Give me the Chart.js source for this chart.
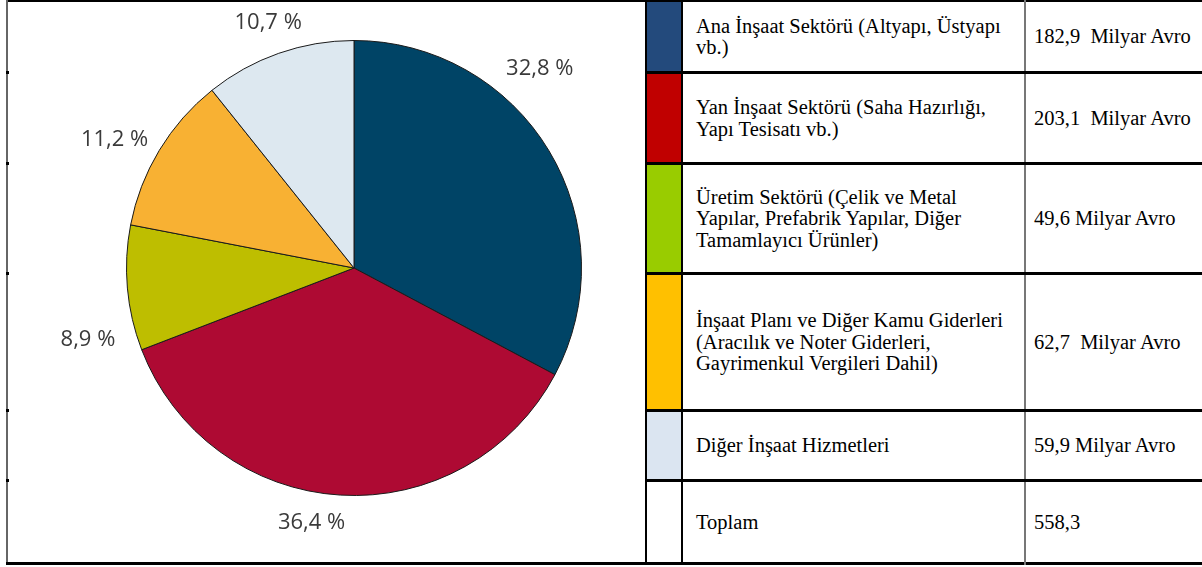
<!DOCTYPE html>
<html>
<head>
<meta charset="utf-8">
<script src="https://cdn.jsdelivr.net/npm/chart.js@4.4.0/dist/chart.umd.min.js"></script>
<style>
  html, body { margin: 0; padding: 0; background: #fff; }
  #sayfa { position: relative; width: 1202px; height: 567px; overflow: hidden; }
  #pasta-kutu { position: absolute; left: 0; top: 0; width: 646px; height: 564px; }
  .cizgi { position: absolute; }
  .hucre {
    position: absolute; display: flex; align-items: center;
    font-family: 'Liberation Serif', serif;
    font-size: 20.5px; line-height: 21.5px; color: #000;
    white-space: pre; box-sizing: border-box;
  }
  .renk { position: absolute; }
</style>
</head>
<body>
<div id="sayfa">
  <div id="pasta-kutu"><canvas id="grafico-pasta"></canvas></div>
</div>
<script>
// --- DADOS ---
const kategoriler = [
  'Ana İnşaat Sektörü (Altyapı, Üstyapı\nvb.)',
  'Yan İnşaat Sektörü (Saha Hazırlığı,\nYapı Tesisatı vb.)',
  'Üretim Sektörü (Çelik ve Metal\nYapılar, Prefabrik Yapılar, Diğer\nTamamlayıcı Ürünler)',
  'İnşaat Planı ve Diğer Kamu Giderleri\n(Aracılık ve Noter Giderleri,\nGayrimenkul Vergileri Dahil)',
  'Diğer İnşaat Hizmetleri'
];
const degerler = [182.9, 203.1, 49.6, 62.7, 59.9]; // Milyar Avro
const degerYazilari = ['182,9  Milyar Avro', '203,1  Milyar Avro', '49,6 Milyar Avro', '62,7  Milyar Avro', '59,9 Milyar Avro'];
const toplamEtiketi = 'Toplam';
const toplamYazisi = '558,3';

// --- ESTILO ---
const pastaRenkleri = ['#004466', '#ae0a33', '#bebe00', '#f8b133', '#dde8f0'];
const tabloRenkleri = ['#234a7c', '#c00000', '#99cc00', '#ffc000', '#dbe5f1', '#ffffff'];
const satirSinirlari = [0, 72, 163, 273, 410, 480, 564];
// deslocamento manual dos rótulos (graus, px além do raio)
const etiketAciKaydir = [-16, 6, -10, -3, 0];
const etiketMesafe = [45, 31, 48, 44, 32];

const sayfaEl = document.getElementById('sayfa');

function cizgi(x, y, w, h, renk) {
  const d = document.createElement('div');
  d.className = 'cizgi';
  d.style.cssText = `left:${x}px;top:${y}px;width:${w}px;height:${h}px;background:${renk}`;
  sayfaEl.appendChild(d);
}

function hucre(x, y, w, h, metin) {
  const d = document.createElement('div');
  d.className = 'hucre';
  d.style.left = x + 'px';
  d.style.top = y + 'px';
  d.style.width = w + 'px';
  d.style.height = h + 'px';
  d.textContent = metin;
  sayfaEl.appendChild(d);
}

// --- TABELA ---
const satirlar = kategoriler.map((k, i) => ({ metin: k, deger: degerYazilari[i] }));
satirlar.push({ metin: toplamEtiketi, deger: toplamYazisi });

satirlar.forEach((s, i) => {
  const y0 = satirSinirlari[i];
  const y1 = satirSinirlari[i + 1];
  const renk = document.createElement('div');
  renk.className = 'renk';
  renk.style.cssText = `left:647px;top:${y0}px;width:35px;height:${y1 - y0}px;background:${tabloRenkleri[i]}`;
  sayfaEl.appendChild(renk);

  hucre(696, y0 + 1, 325, y1 - y0, s.metin);
  hucre(1034, y0 + 1, 168, y1 - y0, s.deger);
});

// bordas
cizgi(6, 0, 1196, 2, '#000');
cizgi(6, 0, 2, 565, '#666');
cizgi(6, 562, 1196, 3, '#000');
cizgi(645, 0, 2, 565, '#000');
cizgi(681, 0, 2, 565, '#000');
cizgi(1024, 0, 2, 565, '#777');
satirSinirlari.slice(1, -1).forEach(y => {
  cizgi(646, y - 1, 556, 3, '#000');
  cizgi(6, y - 1, 3, 3, '#000');
});

// --- GRÁFICO DE PIZZA ---
const toplam = degerler.reduce((t, v) => t + v, 0);
const yuzdeler = degerler.map(v => (v / toplam * 100).toFixed(1).replace('.', ',') + ' %');

const etiketEklentisi = {
  id: 'yuzdeEtiketleri',
  afterDatasetsDraw(chart) {
    const ctx = chart.ctx;
    const meta = chart.getDatasetMeta(0);
    ctx.save();
    ctx.font = '22px "Open Sans", sans-serif';
    ctx.fillStyle = '#3a3a3a';
    ctx.textAlign = 'center';
    ctx.textBaseline = 'middle';
    meta.data.forEach((arc, i) => {
      const p = arc.getProps(['x', 'y', 'startAngle', 'endAngle', 'outerRadius'], true);
      const orta = (p.startAngle + p.endAngle) / 2 + etiketAciKaydir[i] * Math.PI / 180;
      const r = p.outerRadius + etiketMesafe[i];
      ctx.fillText(yuzdeler[i], p.x + Math.cos(orta) * r, p.y + Math.sin(orta) * r);
    });
    ctx.restore();
  }
};

new Chart(document.getElementById('grafico-pasta'), {
  type: 'pie',
  data: {
    labels: kategoriler,
    datasets: [{
      data: degerler,
      backgroundColor: pastaRenkleri,
      borderColor: '#1a1a1a',
      borderWidth: 1
    }]
  },
  options: {
    responsive: true,
    maintainAspectRatio: false,
    animation: false,
    layout: { padding: { left: 126, right: 64, top: 40, bottom: 68 } },
    plugins: {
      legend: { display: false },
      tooltip: { enabled: false }
    }
  },
  plugins: [etiketEklentisi]
});
</script>
</body>
</html>
